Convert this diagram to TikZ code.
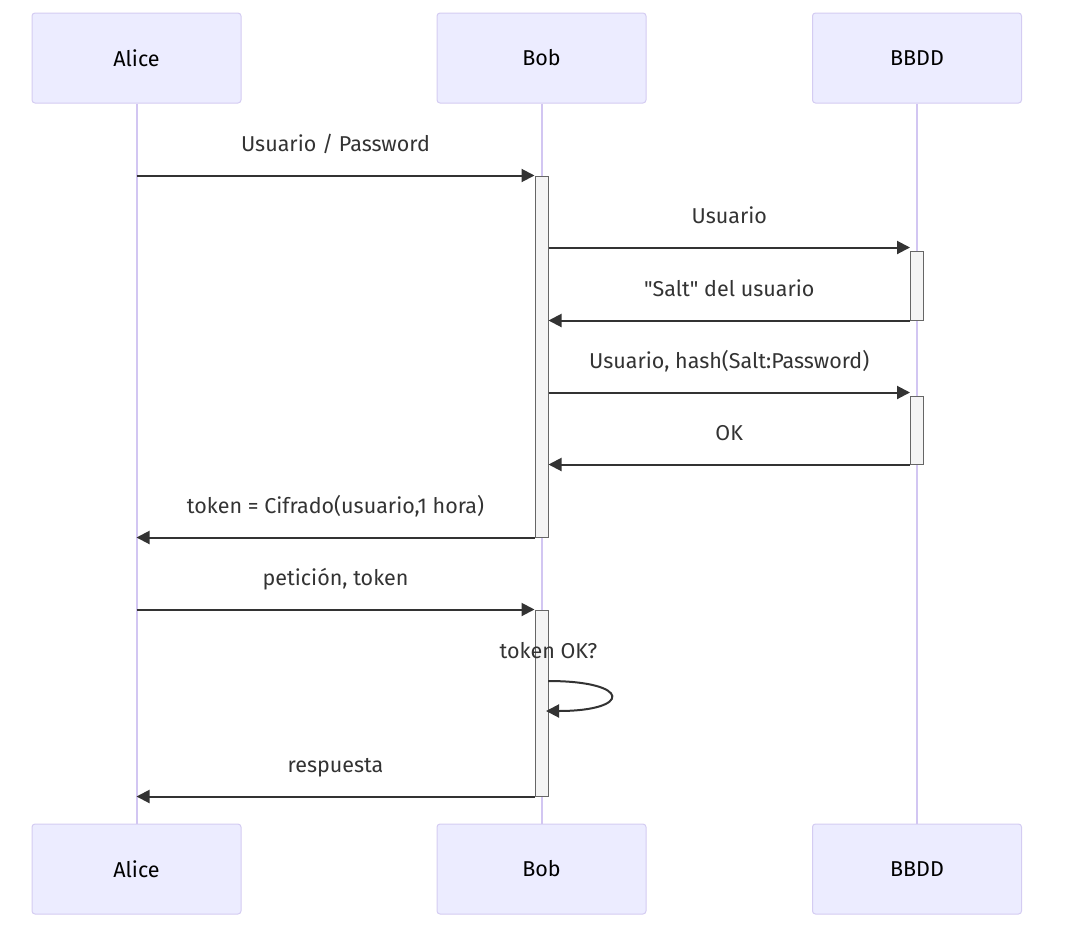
\documentclass[tikz,border=0pt]{standalone}
\usepackage{fontspec}
\setmainfont{Fira Sans}
\usetikzlibrary{arrows.meta,positioning}
\definecolor{actfill}{HTML}{ECECFF}
\definecolor{actline}{HTML}{D4CCF2}
\definecolor{lifeline}{HTML}{D2C6F2}
\definecolor{boxfill}{HTML}{F4F4F4}
\definecolor{boxline}{HTML}{666666}
\definecolor{msgline}{HTML}{333333}
\begin{document}
\begin{tikzpicture}[x=1pt,y=-1pt,
  actor/.style={draw=actline,fill=actfill,rounded corners=3pt,line width=1pt,
    minimum width=209pt,minimum height=90pt,font=\fontsize{21.5}{26}\selectfont},
  life/.style={draw=lifeline,line width=2pt},
  actbox/.style={draw=boxline,fill=boxfill,line width=1pt,minimum width=13pt,inner sep=0pt},
  msg/.style={draw=msgline,line width=2pt,-{Triangle[length=13pt,width=13pt]}},
  lbl/.style={text=msgline,font=\fontsize{21.5}{26}\selectfont,inner sep=0pt,text depth=0pt}]
\useasboundingbox (0,0) rectangle (1074,927);
% actors
\node[actor] (aliceTop) at (136.5,58) {Alice};
\node[actor] (bobTop) at (541.5,58) {Bob};
\node[actor] (bbddTop) at (917,58) {BBDD};
\node[actor] (aliceBot) at (136.5,869) {Alice};
\node[actor] (bobBot) at (541.5,869) {Bob};
\node[actor] (bbddBot) at (917,869) {BBDD};
% lifelines
\draw[life] (aliceTop.south) -- (aliceBot.north);
\draw[life] (bobTop.south) -- (bobBot.north);
\draw[life] (bbddTop.south) -- (bbddBot.north);
% activations
\node[actbox,minimum height=361pt] (bobAct1) at (541.5,356.5) {};
\node[actbox,minimum height=186pt] (bobAct2) at (541.5,703) {};
\node[actbox,minimum height=69pt] (bbddAct1) at (917,285.5) {};
\node[actbox,minimum height=68pt] (bbddAct2) at (917,430) {};
% messages
\draw[msg] (aliceTop.south |- bobAct1.north) -- node[lbl,above=23pt] (lblLogin) {Usuario / Password} (bobAct1.north west);
\draw[msg] ([yshift=3pt]bobAct1.east |- bbddAct1.north) -- node[lbl,above=23pt] (lblUser) {Usuario} ([yshift=3pt]bbddAct1.north west);
\draw[msg] (bbddAct1.south west) -- node[lbl,above=23pt] (lblSalt) {\textquotedbl Salt\textquotedbl{} del usuario} (bobAct1.east |- bbddAct1.south);
\draw[msg] ([yshift=3pt]bobAct1.east |- bbddAct2.north) -- node[lbl,above=23pt] (lblHash) {Usuario, hash(Salt:Password)} ([yshift=3pt]bbddAct2.north west);
\draw[msg] (bbddAct2.south west) -- node[lbl,above=23pt] (lblOk) {OK} (bobAct1.east |- bbddAct2.south);
\draw[msg] (bobAct1.south west) -- node[lbl,above=23pt] (lblToken) {token = Cifrado(usuario,1 hora)} (aliceTop.south |- bobAct1.south);
\draw[msg] (aliceTop.south |- bobAct2.north) -- node[lbl,above=23pt] (lblReq) {petición, token} (bobAct2.north west);
% self check
\node[lbl,anchor=base] (lblCheck) at (548.5,658) {token OK?};
\coordinate (loopA) at (548,681);
\coordinate (loopB) at (546,711);
\draw[msg] (loopA) .. controls (632,681) and (632,711) .. (loopB);
\draw[msg] (bobAct2.south west) -- node[lbl,above=23pt] (lblResp) {respuesta} (aliceTop.south |- bobAct2.south);
\end{tikzpicture}
\end{document}
